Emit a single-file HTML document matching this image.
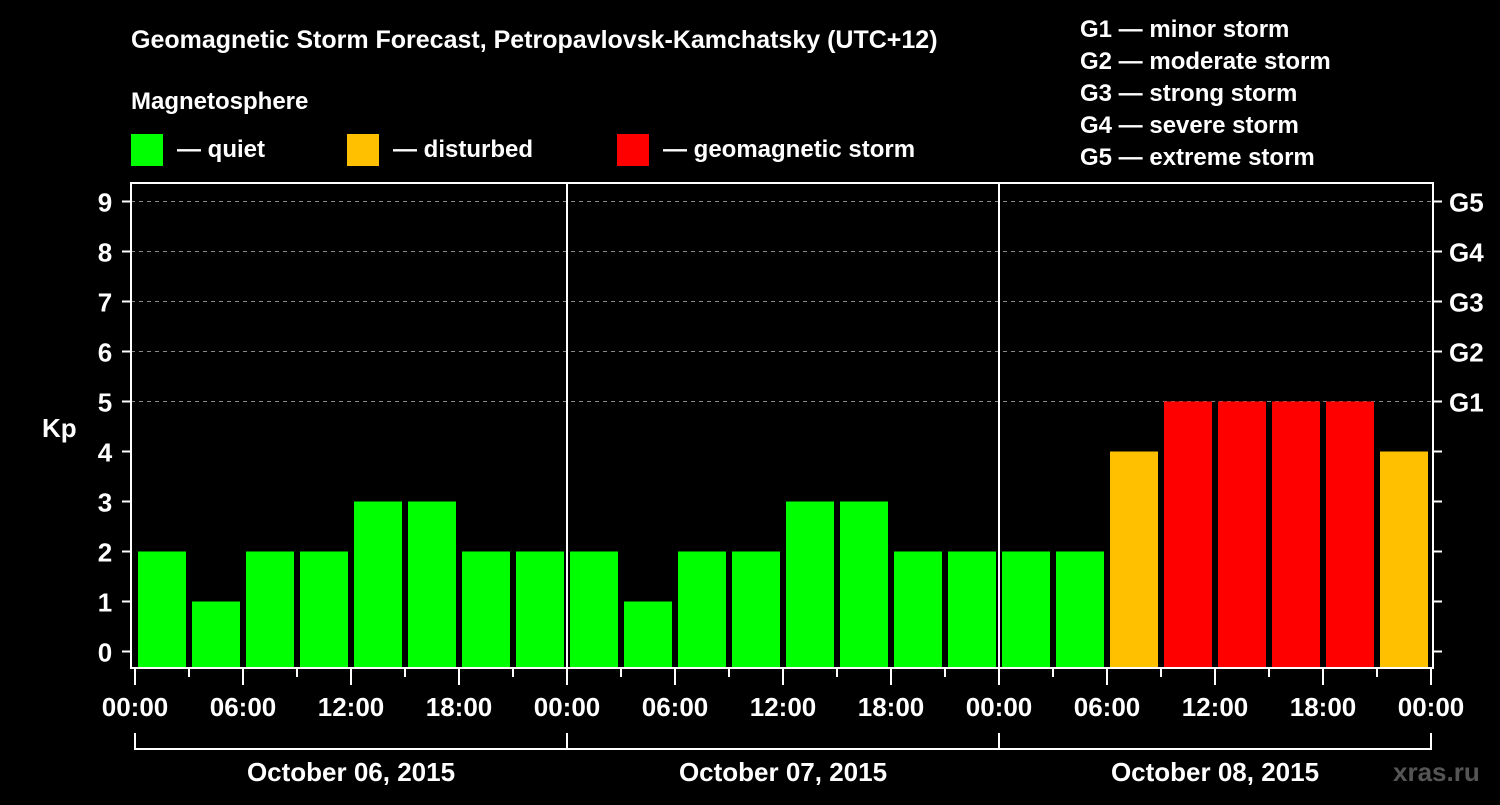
<!DOCTYPE html>
<html><head><meta charset="utf-8"><style>
body{margin:0;background:#000;}
svg text{font-family:"Liberation Sans",Arial,sans-serif;font-weight:bold;fill:#fff;}
</style></head><body>
<svg id="c" width="1500" height="800" xmlns="http://www.w3.org/2000/svg">
<rect width="1500" height="800" fill="#000"/>
<text x="131" y="48" font-size="25">Geomagnetic Storm Forecast, Petropavlovsk-Kamchatsky (UTC+12)</text>
<text x="131" y="109" font-size="24">Magnetosphere</text>
<rect x="131" y="134" width="32" height="32" fill="#00ff00"/>
<text x="177" y="157" font-size="24">— quiet</text>
<rect x="347" y="134" width="32" height="32" fill="#ffc000"/>
<text x="393" y="157" font-size="24">— disturbed</text>
<rect x="617" y="134" width="32" height="32" fill="#ff0000"/>
<text x="663" y="157" font-size="24">— geomagnetic storm</text>
<g font-size="24">
<text x="1080" y="37">G1 — minor storm</text>
<text x="1080" y="69">G2 — moderate storm</text>
<text x="1080" y="101">G3 — strong storm</text>
<text x="1080" y="133">G4 — severe storm</text>
<text x="1080" y="165">G5 — extreme storm</text>
</g>
<text x="42" y="437" font-size="26">Kp</text>
<text x="1393" y="781" font-size="26" style="fill:#555">xras.ru</text>
<g id="grid"></g><g id="bars"></g><g id="axes"></g>
</svg>
<script>
const kpValues=[2,1,2,2,3,3,2,2, 2,1,2,2,3,3,2,2, 2,2,4,5,5,5,5,4];
const yTicks=[0,1,2,3,4,5,6,7,8,9];
const gLabels=["G1","G2","G3","G4","G5"];
const gLevels=[5,6,7,8,9];
const xTickLabels=["00:00","06:00","12:00","18:00","00:00","06:00","12:00","18:00","00:00","06:00","12:00","18:00","00:00"];
const dayLabels=["October 06, 2015","October 07, 2015","October 08, 2015"];
const NS="http://www.w3.org/2000/svg";
const L=131,R=1433,T=183,B=668;
const y=v=>651.5-50*v;
const x=h=>135+18*h;
function mk(tag,attrs,parent,text){const e=document.createElementNS(NS,tag);for(const k in attrs)e.setAttribute(k,attrs[k]);if(text!==undefined)e.textContent=text;document.getElementById(parent).appendChild(e);return e;}
function col(v){return v>=5?"#ff0000":v>=4?"#ffc000":"#00ff00";}
// grid
gLevels.forEach(v=>{const e=mk("line",{x1:L,x2:R,y1:y(v),y2:y(v),stroke:"#888","stroke-width":1,"stroke-dasharray":"4,4"},"grid");

});
// bars
kpValues.forEach((v,i)=>{const e=mk("rect",{x:x(i*3)+3,y:y(v),width:48,height:B-1-y(v),fill:col(v)},"bars");

});
// frame
const fr=mk("rect",{x:L,y:T,width:R-L,height:B-T,fill:"none",stroke:"#fff","stroke-width":2},"axes");


[1,2].forEach(d=>{const e=mk("line",{x1:x(24*d),x2:x(24*d),y1:T,y2:B,stroke:"#fff","stroke-width":2},"axes");

});
yTicks.forEach(v=>{
const a=mk("line",{x1:122,x2:L,y1:y(v),y2:y(v),stroke:"#fff","stroke-width":2},"axes");


const b=mk("line",{x1:R,x2:1442,y1:y(v),y2:y(v),stroke:"#fff","stroke-width":2},"axes");


const t=mk("text",{x:105,y:y(v)+10,"font-size":26,"text-anchor":"middle"},"axes",String(v));

});
gLevels.forEach((v,i)=>{const t=mk("text",{x:1449,y:y(v)+10,"font-size":26},"axes",gLabels[i]);

});
for(let h=0;h<=72;h+=3){const major=h%6===0;const e=mk("line",{x1:x(h),x2:x(h),y1:B,y2:major?685:677,stroke:"#fff","stroke-width":2},"axes");

}
xTickLabels.forEach((s,i)=>{const t=mk("text",{x:x(i*6),y:716,"font-size":26,"text-anchor":"middle"},"axes",s);

});
const br=mk("path",{d:`M${x(0)},733V749H${x(72)}V733`,fill:"none",stroke:"#fff","stroke-width":2},"axes");


[1,2].forEach(d=>{const e=mk("line",{x1:x(24*d),x2:x(24*d),y1:733,y2:749,stroke:"#fff","stroke-width":2},"axes");

});
dayLabels.forEach((s,i)=>{const t=mk("text",{x:x(24*i+12),y:781,"font-size":26,"text-anchor":"middle"},"axes",s);

});
</script>
</body></html>
